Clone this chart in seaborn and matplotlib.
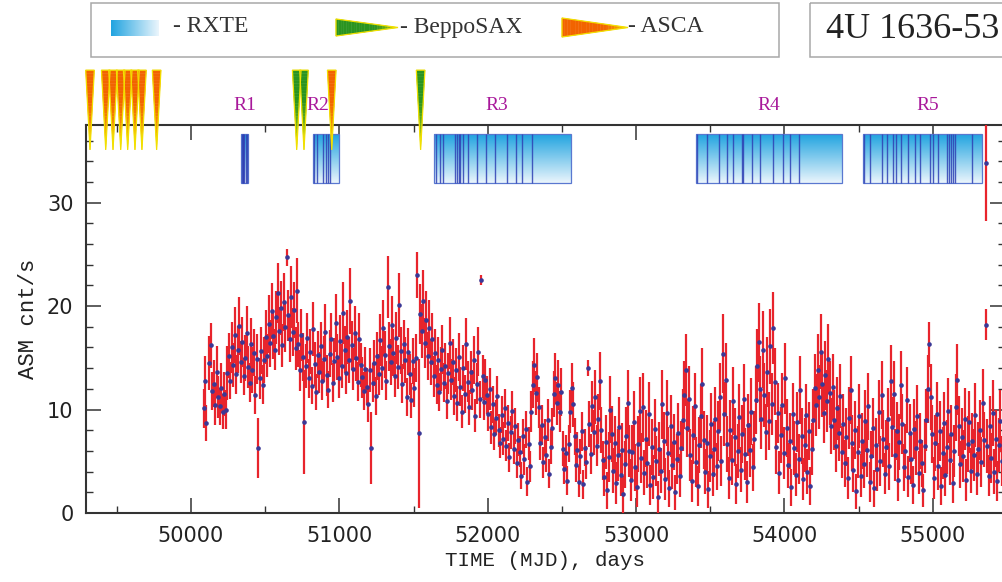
import numpy as np
import pandas as pd
import matplotlib
matplotlib.use("Agg")
import matplotlib.pyplot as plt
from matplotlib.patches import Polygon, Rectangle
from matplotlib.ticker import MultipleLocator, FormatStrFormatter
from matplotlib.colors import to_rgb
import seaborn as sns

nan = np.nan

# ---------------- data ----------------
mjd_start = 50085
mjd_step = 10
asm_rate = [
    10.1, 12.8, 8.7, nan, 14.5, 16.2, 11.8, 12.5, 10.4, 13.6,
    11.2, 10.3, 12.1, 9.8, 11.5, 10.0, 13.5, 15.2, 12.8, 16.0,
    14.3, 17.2, 13.4, 15.8, 18.1, 14.6, 16.5, 13.2, 15.0, 17.4,
    14.1, 12.6, 16.3, 13.8, 15.5, 11.4, 14.9, 6.3, 13.0, 15.7,
    12.4, 14.8, 17.0, 15.2, 18.3, 16.4, 19.5, 17.1, 15.8, 18.9,
    21.3, 17.6, 19.8, 16.2, 20.4, 18.0, 24.7, 19.1, 16.8, 20.9,
    17.5, 19.6, 15.9, 21.5, 16.3, 13.8, 17.2, 15.1, 8.8, 14.2,
    16.9, 13.0, 15.6, 12.3, 17.8, 14.4, 11.7, 15.3, 13.6, 16.1,
    12.8, 14.9, 17.5, 13.3, 11.9, 15.4, 16.8, 12.6, 14.7, 18.4,
    15.1, 13.0, 16.6, 14.2, 19.3, 15.8, 13.5, 17.0, 14.8, 20.5,
    16.2, 13.9, 17.4, 15.0, 12.7, 16.8, 14.3, 13.1, 11.8, 13.9,
    12.2, 10.5, 13.8, 6.3, 12.6, 14.5, 11.3, 15.2, 13.4, 16.7,
    14.0, 17.9, 15.3, 12.8, 21.8, 16.1, 14.6, 18.2, 15.5, 13.2,
    16.9, 14.1, 20.1, 15.7, 12.5, 16.3, 14.8, 11.2, 15.6, 13.4,
    10.9, 14.7, 12.1, 15.0, 23.0, 7.7, 19.2, 17.6, 20.5, 16.4,
    18.7, 15.2, 17.9, 14.6, 16.8, 13.2, 15.5, 12.4, 14.8, 11.7,
    13.9, 15.8, 12.6, 14.2, 10.8, 13.5, 16.4, 12.9, 14.6, 11.3,
    13.8, 10.6, 15.1, 12.2, 9.8, 14.0, 11.5, 16.3, 12.7, 10.2,
    13.6, 11.9, 14.8, 9.4, 12.5, 15.6, 11.0, 22.5, 13.2, 10.7,
    12.9, 11.4, 9.6, 12.0, 8.3, 10.5, 7.6, 9.2, 11.3, 8.0,
    6.8, 9.5, 7.2, 10.1, 6.5, 8.7, 5.4, 7.8, 9.9, 6.2,
    8.4, 4.8, 7.1, 5.9, 3.6, 7.4, 5.2, 8.1, 3.0, 6.7,
    4.5, 9.8, 12.4, 14.3, 11.6, 13.1, 10.2, 6.8, 8.5, 4.9,
    7.3, 5.6, 9.0, 3.8, 6.4, 8.2, 11.5, 13.0, 10.6, 12.4,
    9.8, 11.7, 6.2, 4.3, 5.8, 3.1, 6.7, 9.8, 12.1, 10.5,
    7.4, 4.6, 6.1, 3.0, 5.5, 7.9, 2.8, 6.3, 4.9, 14.0,
    8.6, 5.7, 10.3, 7.8, 11.2, 6.5, 9.1, 12.8, 8.0, 5.1,
    3.5, 6.9, 2.2, 5.4, 10.0, 7.6, 4.1, 6.8, 2.9, 5.6,
    8.3, 3.7, 6.1, 1.8, 4.7, 7.4, 10.6, 6.0, 3.2, 5.9,
    8.8, 4.4, 2.5, 6.7, 9.9, 5.3, 10.2, 3.9, 7.2, 4.8,
    9.6, 2.7, 6.4, 3.5, 8.1, 5.0, 1.5, 6.2, 4.1, 10.5,
    7.0, 3.3, 9.7, 5.8, 2.4, 8.4, 4.6, 6.9, 2.0, 5.2,
    7.7, 3.6, 6.3, 9.0, 11.4, 13.8, 8.2, 11.0, 5.6, 3.1,
    7.5, 10.3, 4.9, 2.6, 6.6, 9.4, 12.5, 7.1, 4.0, 6.8,
    2.3, 5.5, 8.6, 3.8, 6.2, 9.1, 4.5, 7.9, 11.2, 5.0,
    15.4, 9.6, 12.9, 6.7, 3.4, 8.0, 5.1, 10.8, 7.3, 2.8,
    6.0, 9.3, 4.2, 7.6, 11.0, 5.7, 3.0, 8.5, 6.1, 9.8,
    4.4, 7.2, 10.9, 14.2, 16.5, 12.0, 9.1, 15.8, 11.4, 7.8,
    13.6, 8.9, 16.1, 10.5, 17.9, 12.7, 6.4, 9.7, 3.9, 7.5,
    10.4, 5.8, 13.0, 8.2, 4.6, 7.0, 2.5, 9.6, 6.3, 3.7,
    8.8, 5.2, 11.9, 7.4, 3.3, 6.6, 9.5, 4.0, 7.9, 2.6,
    6.2, 9.0, 12.1, 10.4, 13.8, 11.2, 15.6, 12.5, 9.7, 13.3,
    10.8, 14.9, 11.6, 8.4, 12.2, 9.0, 6.5, 10.1, 7.7, 11.3,
    5.9, 8.6, 4.8, 7.3, 3.4, 9.2, 11.9, 6.8, 4.2, 8.0,
    2.1, 5.9, 9.4, 3.6, 7.0, 4.7, 8.9, 6.1, 10.3, 3.0,
    5.5, 8.2, 2.4, 6.6, 4.3, 9.8, 5.0, 11.4, 7.2, 3.8,
    6.4, 9.1, 4.5, 12.8, 8.3, 11.5, 5.6, 7.9, 3.2, 6.9,
    12.4, 8.6, 4.4, 6.0, 10.9, 3.5, 7.7, 5.2, 2.7, 8.1,
    6.3, 9.4, 3.9, 7.0, 4.8, 2.2, 6.5, 9.0, 12.0, 16.3,
    11.2, 7.6, 3.4, 6.8, 9.6, 4.5, 7.9, 2.6, 5.8, 8.7,
    3.7, 6.4, 9.9, 5.1, 7.6, 2.9, 6.0, 10.2, 12.9, 8.4,
    4.7, 7.3, 5.5, 9.1, 3.2, 6.7, 8.8, 4.1, 7.0, 5.6,
    9.5, 3.8, 6.2, 8.0, 4.9, 10.6, 7.1, 18.2, 6.5, 3.6,
    8.4, 5.3, 9.7, 4.0, 7.2, 3.1, 6.6, 8.9, 5.0,
]
asm_err = [
    1.9, 2.4, 1.7, 2.0, 2.6, 2.2, 1.8, 2.3, 1.9, 2.5,
    2.0, 1.8, 2.4, 1.7, 2.1, 1.9, 2.6, 2.2, 1.8, 2.5,
    2.1, 2.7, 1.9, 2.3, 2.8, 2.0, 2.4, 1.8, 2.2, 2.6,
    2.0, 1.9, 2.5, 2.2, 2.3, 1.8, 2.4, 2.9, 2.0, 2.3,
    1.9, 2.2, 2.6, 2.1, 2.8, 2.3, 2.7, 2.2, 2.0, 2.6,
    2.9, 2.3, 2.6, 2.1, 2.8, 2.4, 0.8, 2.5, 2.2, 3.0,
    2.3, 2.7, 2.1, 3.1, 2.2, 2.0, 2.5, 2.3, 5.0, 2.1,
    2.4, 1.9, 2.2, 1.8, 2.6, 2.1, 1.7, 2.3, 2.0, 2.4,
    1.9, 2.2, 2.7, 2.0, 1.8, 2.3, 2.5, 1.9, 2.2, 2.8,
    2.2, 1.9, 2.5, 2.1, 3.0, 2.3, 2.0, 2.6, 2.2, 3.2,
    2.4, 2.0, 2.6, 2.2, 1.9, 2.5, 2.1, 2.0, 1.8, 2.1,
    1.8, 1.7, 2.1, 3.5, 1.9, 2.2, 1.8, 2.3, 2.0, 2.5,
    2.1, 2.7, 2.3, 1.9, 3.0, 2.4, 2.2, 2.8, 2.3, 2.0,
    2.5, 2.1, 3.1, 2.3, 1.9, 2.4, 2.2, 1.8, 2.3, 2.0,
    1.7, 2.2, 1.9, 2.3, 2.2, 7.2, 2.9, 2.6, 3.0, 2.4,
    2.8, 2.3, 2.7, 2.2, 2.5, 2.0, 2.3, 1.9, 2.2, 1.8,
    2.1, 2.4, 1.9, 2.2, 1.7, 2.0, 2.5, 2.0, 2.2, 1.8,
    2.1, 1.7, 2.3, 1.9, 1.6, 2.2, 1.8, 2.5, 2.0, 1.7,
    2.1, 1.9, 2.3, 1.6, 2.0, 2.4, 1.8, 0.5, 2.1, 1.7,
    2.0, 1.8, 1.7, 2.0, 1.6, 1.8, 1.5, 1.7, 1.9, 1.6,
    1.5, 1.8, 1.6, 1.9, 1.5, 1.7, 1.4, 1.6, 1.9, 1.5,
    1.7, 1.4, 1.6, 1.5, 1.3, 1.7, 1.5, 1.8, 1.4, 1.6,
    1.5, 2.0, 2.3, 2.6, 2.1, 2.4, 2.0, 1.7, 1.9, 1.5,
    1.8, 1.6, 2.0, 1.4, 1.7, 1.9, 2.2, 2.5, 2.1, 2.4,
    2.0, 2.3, 1.7, 1.5, 1.7, 1.4, 1.8, 2.1, 2.4, 2.2,
    1.8, 1.6, 1.7, 1.5, 1.7, 1.9, 1.4, 1.8, 1.6, 0.8,
    2.2, 1.9, 2.5, 2.2, 2.6, 2.0, 2.4, 2.8, 2.2, 1.9,
    1.9, 2.6, 1.8, 2.4, 3.2, 2.7, 2.2, 2.6, 2.0, 2.5,
    2.9, 2.1, 2.6, 1.8, 2.3, 2.8, 3.2, 2.5, 2.0, 2.6,
    3.0, 2.3, 1.9, 2.7, 3.2, 2.4, 3.3, 2.2, 2.8, 2.4,
    3.1, 1.9, 2.7, 2.1, 2.9, 2.4, 1.6, 2.6, 2.2, 3.3,
    2.8, 2.0, 3.2, 2.5, 1.8, 3.0, 2.3, 2.7, 1.7, 2.4,
    2.9, 2.1, 2.6, 3.0, 3.3, 3.5, 2.8, 3.2, 2.5, 2.0,
    2.8, 3.2, 2.4, 1.9, 2.7, 3.1, 3.4, 2.8, 2.2, 2.7,
    1.8, 2.5, 3.0, 2.2, 2.7, 3.1, 2.3, 2.9, 3.3, 2.4,
    3.8, 3.1, 3.5, 2.7, 2.0, 2.9, 2.4, 3.3, 2.8, 1.9,
    2.6, 3.2, 2.2, 2.8, 3.4, 2.5, 2.0, 3.0, 2.6, 3.2,
    2.3, 2.7, 3.3, 3.6, 3.8, 3.2, 2.9, 3.7, 3.1, 2.7,
    3.4, 2.8, 3.6, 3.0, 3.5, 3.2, 2.6, 2.9, 2.1, 2.7,
    3.1, 2.5, 3.4, 2.8, 2.2, 2.7, 1.8, 3.0, 2.6, 2.1,
    2.9, 2.4, 3.3, 2.7, 2.0, 2.6, 3.0, 2.2, 2.8, 1.8,
    2.5, 3.0, 3.3, 3.0, 3.5, 3.1, 3.6, 3.2, 2.9, 3.3,
    3.0, 3.4, 3.1, 2.7, 3.2, 2.9, 2.5, 3.0, 2.7, 3.1,
    2.5, 2.9, 2.3, 2.8, 2.0, 3.0, 3.3, 2.7, 2.2, 2.8,
    1.7, 2.5, 3.1, 2.1, 2.7, 2.3, 3.0, 2.6, 3.2, 1.9,
    2.4, 2.9, 1.8, 2.6, 2.2, 3.1, 2.4, 3.3, 2.8, 2.0,
    2.6, 3.0, 2.3, 3.4, 2.9, 3.2, 2.5, 2.8, 2.0, 2.7,
    3.3, 2.9, 2.3, 2.6, 3.2, 2.0, 2.8, 2.4, 1.8, 2.9,
    2.6, 3.0, 2.1, 2.7, 2.3, 1.6, 2.6, 3.0, 3.3, 2.2,
    3.2, 2.8, 2.0, 2.7, 3.1, 2.3, 2.9, 1.8, 2.5, 3.0,
    2.1, 2.6, 3.1, 2.4, 2.8, 1.9, 2.5, 3.2, 3.4, 2.9,
    2.3, 2.8, 2.5, 3.0, 2.0, 2.7, 3.0, 2.2, 2.7, 2.5,
    3.1, 2.1, 2.6, 2.9, 2.4, 3.3, 2.7, 1.5, 2.6, 2.0,
    2.9, 2.4, 3.2, 2.2, 2.8, 1.9, 2.6, 3.0, 2.4,
]
# isolated high point with a very large error near the end
extra_mjd = [55358]
extra_rate = [33.8]
extra_err = [5.6]

# observation epochs
asca_mjd = [49320, 49426, 49475, 49527, 49574, 49623, 49670, 49769, 50949]
sax_mjd = [50713, 50762, 51548]

# RXTE pointed-observation campaigns (start, end) and individual observation epochs
rxte_start = [50337, 50825, 51640, 53405, 54529]
rxte_end = [50385, 50996, 52559, 54385, 55329]
rxte_obs = [50341, 50348, 50354, 50361, 50368, 50375,
            50831, 50848, 50892, 50908, 50926, 50937,
            51651, 51678, 51701, 51780, 51793, 51806, 51813, 51835, 51869,
            51926, 51988, 52049, 52128, 52189, 52229, 52296,
            53412, 53476, 53561, 53610, 53655, 53715, 53720, 53779, 53835,
            53924, 53988, 54037, 54100,
            54536, 54576, 54655, 54688, 54733, 54751, 54783, 54834, 54879,
            54913, 54980, 54998, 55036, 55093, 55108, 55122, 55135, 55149, 55261]

region_labels = ["R1", "R2", "R3", "R4", "R5"]
region_label_mjd = [50364, 50856, 52063, 53895, 54967]

assert len(asm_rate) == len(asm_err)
mjd = mjd_start + mjd_step * np.arange(len(asm_rate))
df = pd.DataFrame({"MJD": np.concatenate([mjd, extra_mjd]),
                   "rate": np.concatenate([asm_rate, extra_rate]),
                   "err": np.concatenate([asm_err, extra_err])})

# ---------------- style ----------------
sns.set_theme(style="ticks")
plt.rcParams["font.family"] = ["DejaVu Sans"]

W, H = 1003, 582
fig = plt.figure(figsize=(W / 100, H / 100), dpi=100)
fig.patch.set_facecolor("white")

deco = fig.add_axes([0, 0, 1, 1], zorder=0)
deco.set_xlim(0, W)
deco.set_ylim(H, 0)
deco.axis("off")

x_left, x_right, y_bot, y_top = 86, 1005, 513, 125
ax = fig.add_axes([x_left / W, 1 - y_bot / H, (x_right - x_left) / W, (y_bot - y_top) / H], zorder=1)

RED = "#e8242c"
NAVY = "#3a3896"
TXT = "#333333"

# light curve
ax.errorbar(df["MJD"], df["rate"], yerr=df["err"], fmt="none", ecolor=RED,
            elinewidth=1.6, capsize=0, zorder=3)
sns.scatterplot(data=df, x="MJD", y="rate", color=NAVY, s=11, linewidth=0,
                marker="o", ax=ax, zorder=4, legend=False)

# RXTE campaign bars with gradient
bar_lo, bar_hi = 31.9, 36.6
top_c = np.array(to_rgb("#22a4e0"))
bot_c = np.array(to_rgb("#eaf5fc"))
t = np.linspace(0, 1, 64)[:, None]
grad = (top_c[None, :] * (1 - t) + bot_c[None, :] * t)[:, None, :]
for s, e in zip(rxte_start, rxte_end):
    ax.imshow(grad, extent=[s, e, bar_lo, bar_hi], aspect="auto", origin="upper",
              zorder=2, interpolation="bilinear")
    ax.add_patch(Rectangle((s, bar_lo), e - s, bar_hi - bar_lo, fill=False,
                           edgecolor="#5a78d0", lw=0.9, zorder=2.5))
ax.vlines(rxte_obs, bar_lo, bar_hi, color="#2f40b4", lw=1.0, alpha=0.85, zorder=2.6)

# observation triangles (pointing down into the plot)
tri_top, tri_tip, tri_hw = 42.8, 35.1, 29.0


def draw_triangle(m, c_top, c_tip, n=24):
    ct, cp = np.array(to_rgb(c_top)), np.array(to_rgb(c_tip))
    for k in range(n):
        f0, f1 = k / n, (k + 1) / n
        y0 = tri_top - (tri_top - tri_tip) * f0
        y1 = tri_top - (tri_top - tri_tip) * f1
        w0, w1 = tri_hw * (1 - f0), tri_hw * (1 - f1)
        fr = min(1.0, max(0.0, (f0 - 0.35) / 0.65)) ** 1.3
        col = ct * (1 - fr) + cp * fr
        ax.add_patch(Polygon([(m - w0, y0), (m + w0, y0), (m + w1, y1), (m - w1, y1)],
                             closed=True, facecolor=col, edgecolor=col, lw=0.3,
                             clip_on=False, zorder=5))
    ax.add_patch(Polygon([(m - tri_hw, tri_top), (m + tri_hw, tri_top), (m, tri_tip)],
                         closed=True, fill=False, edgecolor="#f2e000", lw=0.9,
                         clip_on=False, zorder=5.5))


for m in asca_mjd:
    draw_triangle(m, "#f26400", "#f6dc00")
for m in sax_mjd:
    draw_triangle(m, "#2a9420", "#e4e000")

for lab, m in zip(region_labels, region_label_mjd):
    ax.text(m, 39.4, lab, color="#a8189a", fontsize=14, family="Liberation Serif",
            ha="center", va="center", clip_on=False, zorder=6)

# axes formatting
ax.set_xlim(49293, 55486)
ax.set_ylim(0, 37.5)
ax.xaxis.set_major_locator(MultipleLocator(1000))
ax.xaxis.set_minor_locator(MultipleLocator(500))
ax.yaxis.set_major_locator(MultipleLocator(10))
ax.yaxis.set_minor_locator(MultipleLocator(2))
ax.xaxis.set_major_formatter(FormatStrFormatter("%d"))
ax.yaxis.set_major_formatter(FormatStrFormatter("%d"))
ax.tick_params(which="major", direction="in", length=10.5, width=1.1, top=True, right=True,
               labelsize=15, pad=9, color=TXT, labelcolor="#222222")
ax.tick_params(which="minor", direction="in", length=5, width=1.0, top=True, right=True,
               color=TXT)
for sp in ax.spines.values():
    sp.set_linewidth(1.5)
    sp.set_color(TXT)
    sp.set_visible(True)
ax.set_facecolor("white")
ax.grid(False)
ax.set_xlabel("TIME (MJD), days", family="Liberation Mono", fontsize=15, color="#222222",
              labelpad=4)
ax.set_ylabel("ASM cnt/s", family="Liberation Mono", fontsize=16, color="#222222",
              labelpad=6)

# ---------------- legend and title boxes ----------------
deco.add_patch(Rectangle((91, 3), 779 - 91, 57 - 3, fill=False, edgecolor="#a8a8a8", lw=1.1))
deco.add_patch(Rectangle((810, 3), 220, 57 - 3, fill=False, edgecolor="#a8a8a8", lw=1.1,
                         clip_on=False))
deco.text(826, 30, "4U 1636-53", family="Liberation Serif", fontsize=26, color="#222222",
          ha="left", va="center")

lgrad = np.linspace(0, 1, 64)[None, :, None]
lg = top_c[None, None, :] * (1 - lgrad) + bot_c[None, None, :] * lgrad
deco.imshow(lg, extent=[111, 159, 36, 20], aspect="auto", interpolation="bilinear")
deco.set_xlim(0, W)
deco.set_ylim(H, 0)


def legend_triangle(x0, x1, yc, hh, c_base, c_tip, n=24):
    cb, cp = np.array(to_rgb(c_base)), np.array(to_rgb(c_tip))
    for k in range(n):
        f0, f1 = k / n, (k + 1) / n
        xa = x0 + (x1 - x0) * f0
        xb = x0 + (x1 - x0) * f1
        h0, h1 = hh * (1 - f0), hh * (1 - f1)
        fr = min(1.0, max(0.0, (f0 - 0.6) / 0.4)) ** 1.3
        col = cb * (1 - fr) + cp * fr
        deco.add_patch(Polygon([(xa, yc - h0), (xb, yc - h1), (xb, yc + h1), (xa, yc + h0)],
                               closed=True, facecolor=col, edgecolor=col, lw=0.3))
    deco.add_patch(Polygon([(x0, yc - hh), (x1, yc), (x0, yc + hh)], closed=True,
                           fill=False, edgecolor="#f2e000", lw=0.9))


legend_triangle(336, 398, 27.5, 8.5, "#2a9420", "#e4e000")
legend_triangle(562, 628, 27.5, 9.5, "#f26400", "#f6dc00")
for x, s in [(173, "- RXTE"), (400, "- BeppoSAX"), (628, "- ASCA")]:
    deco.text(x, 27, s, family="Liberation Serif", fontsize=17, color="#333333",
              ha="left", va="center")

fig.savefig("out.png", dpi=100, facecolor="white")
